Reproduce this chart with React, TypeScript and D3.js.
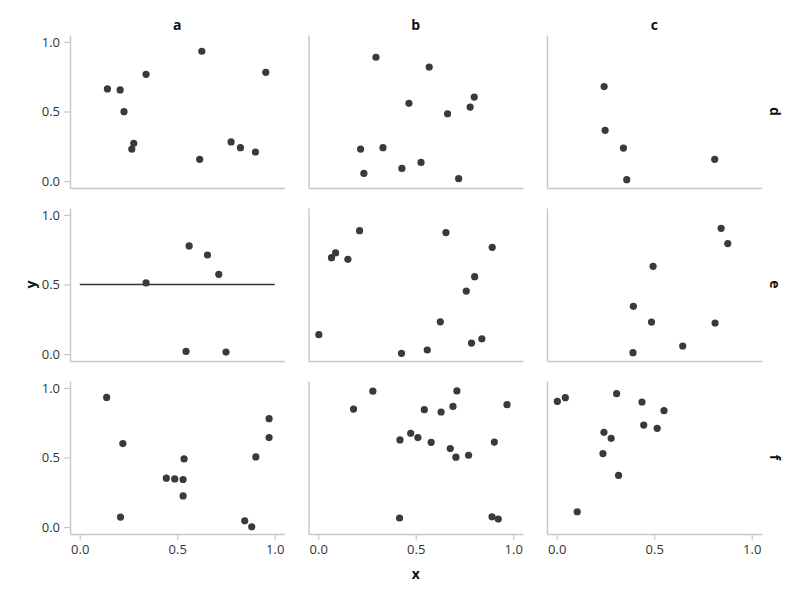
import { useEffect, useRef } from 'react';
import * as d3 from 'd3';

type Pt = [number, number];

const COLS = ['a', 'b', 'c'];
const ROWS = ['d', 'e', 'f'];
const TICKS = [0, 0.5, 1];

// points per facet, [x, y]
const ptsAD: Pt[] = [
  [0.142, 0.662], [0.207, 0.655], [0.227, 0.499], [0.34, 0.767], [0.277, 0.271], [0.267, 0.23],
  [0.626, 0.933], [0.615, 0.156], [0.776, 0.281], [0.824, 0.24], [0.901, 0.209], [0.954, 0.782],
];
const ptsBD: Pt[] = [
  [0.296, 0.89], [0.569, 0.82], [0.465, 0.559], [0.8, 0.604], [0.779, 0.532], [0.663, 0.484],
  [0.217, 0.23], [0.332, 0.24], [0.234, 0.055], [0.429, 0.091], [0.527, 0.134], [0.72, 0.017],
];
const ptsCD: Pt[] = [
  [0.243, 0.679], [0.248, 0.365], [0.342, 0.237], [0.359, 0.01], [0.81, 0.156],
];
const ptsAE: Pt[] = [
  [0.34, 0.511], [0.561, 0.777], [0.655, 0.712], [0.713, 0.573], [0.545, 0.019], [0.75, 0.014],
];
const ptsBE: Pt[] = [
  [0.212, 0.887], [0.068, 0.693], [0.089, 0.727], [0.152, 0.681], [0.003, 0.139], [0.655, 0.873],
  [0.892, 0.767], [0.802, 0.556], [0.759, 0.453], [0.626, 0.232], [0.427, 0.005], [0.559, 0.029],
  [0.786, 0.079], [0.839, 0.11],
];
const ptsCE: Pt[] = [
  [0.843, 0.904], [0.877, 0.794], [0.494, 0.631], [0.393, 0.343], [0.486, 0.23], [0.812, 0.223],
  [0.646, 0.058], [0.391, 0.01],
];
const ptsAF: Pt[] = [
  [0.138, 0.932], [0.221, 0.6], [0.209, 0.072], [0.444, 0.351], [0.487, 0.346], [0.53, 0.342],
  [0.535, 0.49], [0.53, 0.224], [0.846, 0.045], [0.882, 0.002], [0.903, 0.504], [0.971, 0.779],
  [0.971, 0.643],
];
const ptsBF: Pt[] = [
  [0.181, 0.848], [0.28, 0.977], [0.419, 0.626], [0.474, 0.674], [0.511, 0.643], [0.544, 0.844],
  [0.579, 0.609], [0.63, 0.827], [0.677, 0.564], [0.691, 0.867], [0.711, 0.979], [0.706, 0.502],
  [0.771, 0.516], [0.903, 0.611], [0.968, 0.88], [0.417, 0.065], [0.891, 0.074], [0.923, 0.057],
];
const ptsCF: Pt[] = [
  [0.003, 0.903], [0.044, 0.93], [0.307, 0.959], [0.437, 0.899], [0.55, 0.837], [0.446, 0.733],
  [0.515, 0.71], [0.242, 0.681], [0.279, 0.638], [0.237, 0.528], [0.317, 0.371], [0.105, 0.11],
];

// reference line drawn in facet (a, e)
const refLine: Pt[] = [[0, 0.5], [1, 0.5]];

const FACETS: Pt[][][] = [
  [ptsAD, ptsBD, ptsCD],
  [ptsAE, ptsBE, ptsCE],
  [ptsAF, ptsBF, ptsCF],
];

const COL_LEFT = [70, 308.5, 547];
const ROW_TOP = [35, 208, 381];
const PW = 214.5;
const PH = 153;
const FONT = '"Open Sans", "Noto Sans", sans-serif';
const AXIS_COLOR = '#c8c8c8';
const DOT = '#3a3a3a';

export default function App() {
  const ref = useRef<SVGSVGElement>(null);

  useEffect(() => {
    if (!ref.current) return;
    const svg = d3.select(ref.current);
    svg.selectAll('*').remove();

    const x = d3.scaleLinear().domain([-0.05, 1.05]).range([0, PW]);
    const y = d3.scaleLinear().domain([-0.05, 1.05]).range([PH, 0]);

    ROWS.forEach((row, ri) => {
      COLS.forEach((col, ci) => {
        const g = svg
          .append('g')
          .attr('transform', `translate(${COL_LEFT[ci]},${ROW_TOP[ri]})`);

        const yAxis = d3
          .axisLeft(y)
          .tickValues(ci === 0 ? TICKS : [])
          .tickFormat(d3.format('.1f'))
          .tickSize(6)
          .tickPadding(4)
          .tickSizeOuter(0);
        const xAxis = d3
          .axisBottom(x)
          .tickValues(ri === ROWS.length - 1 ? TICKS : [])
          .tickFormat(d3.format('.1f'))
          .tickSize(6)
          .tickPadding(5)
          .tickSizeOuter(0);

        const ya = g.append('g').call(yAxis);
        const xa = g.append('g').attr('transform', `translate(0,${PH})`).call(xAxis);
        [ya, xa].forEach((a) => {
          a.select('.domain').attr('stroke', AXIS_COLOR).attr('stroke-width', 1.5);
          a.selectAll('.tick line').attr('stroke', AXIS_COLOR).attr('stroke-width', 1.2);
          a.selectAll('.tick text')
            .attr('fill', '#333')
            .style('font-family', FONT)
            .style('font-size', '13px');
        });

        if (ri === 1 && ci === 0) {
          const line = d3
            .line<Pt>()
            .x((d) => x(d[0]))
            .y((d) => y(d[1]));
          g.append('path')
            .datum(refLine)
            .attr('d', line)
            .attr('fill', 'none')
            .attr('stroke', '#333')
            .attr('stroke-width', 1.5);
        }

        g.selectAll('circle')
          .data(FACETS[ri][ci])
          .join('circle')
          .attr('cx', (d) => x(d[0]))
          .attr('cy', (d) => y(d[1]))
          .attr('r', 3.6)
          .attr('fill', DOT);

        if (ri === 0) {
          g.append('text')
            .attr('x', PW / 2)
            .attr('y', -5)
            .attr('text-anchor', 'middle')
            .style('font-family', FONT)
            .style('font-size', '14px')
            .style('font-weight', 'bold')
            .attr('fill', '#111')
            .text(col);
        }
        if (ci === COLS.length - 1) {
          g.append('text')
            .attr('transform', `translate(${PW + 8},${PH / 2}) rotate(90)`)
            .attr('text-anchor', 'middle')
            .style('font-family', FONT)
            .style('font-size', '14px')
            .style('font-weight', 'bold')
            .attr('fill', '#111')
            .text(row);
        }
      });
    });

    svg
      .append('text')
      .attr('transform', `translate(36,${ROW_TOP[1] + PH / 2}) rotate(-90)`)
      .attr('text-anchor', 'middle')
      .style('font-family', FONT)
      .style('font-size', '14px')
      .style('font-weight', 'bold')
      .attr('fill', '#111')
      .text('y');

    svg
      .append('text')
      .attr('x', COL_LEFT[1] + PW / 2)
      .attr('y', 579)
      .attr('text-anchor', 'middle')
      .style('font-family', FONT)
      .style('font-size', '14px')
      .style('font-weight', 'bold')
      .attr('fill', '#111')
      .text('x');
  }, []);

  return (
    <svg
      ref={ref}
      width={800}
      height={600}
      style={{ position: 'absolute', left: 0, top: 0, background: '#fff' }}
    />
  );
}
